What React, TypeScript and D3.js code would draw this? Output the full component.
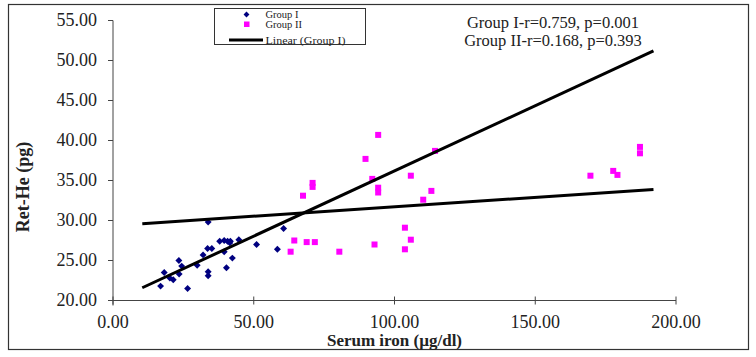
import React from "react";
import * as d3 from "d3";

// Group I: serum iron (µg/dl), Ret-He (pg)
const groupIX = [33.8, 60.6, 37.9, 39.5, 40.7, 41.7, 41.5, 44.7, 33.6, 35.1, 39.5, 51.0, 58.4, 32.0, 42.4, 23.4, 24.4, 29.9, 40.3, 18.2, 33.8, 33.8, 23.5, 20.2, 21.4, 16.9, 26.5];
const groupIY = [29.8, 29.0, 27.4, 27.5, 27.4, 27.4, 27.2, 27.6, 26.5, 26.5, 26.1, 27.0, 26.4, 25.7, 25.3, 25.0, 24.3, 24.4, 24.1, 23.5, 23.6, 23.1, 23.3, 22.8, 22.6, 21.8, 21.5];

const groupIIX = [63.1, 64.4, 68.8, 71.7, 67.5, 70.9, 70.9, 80.4, 89.7, 92.1, 94.2, 94.2, 92.9, 94.2, 103.7, 103.7, 105.8, 105.8, 110.2, 113.1, 114.4, 169.6, 177.7, 179.2, 187.2, 187.2];
const groupIIY = [26.1, 27.5, 27.3, 27.3, 33.1, 34.7, 34.2, 26.1, 37.7, 35.2, 34.1, 33.5, 27.0, 40.7, 29.1, 26.4, 35.6, 27.6, 32.6, 33.7, 38.7, 35.6, 36.2, 35.7, 39.2, 38.4];

// Trend lines: [intercept, slope], drawn over trendRange
const trendRange = [10.4, 192];
const trendI = [19.9, 0.163];
const trendII = [29.36, 0.0235];

const xTicks = [0, 50, 100, 150, 200];
const yTicks = [20, 25, 30, 35, 40, 45, 50, 55];

const legendLabels = ["Group I", "Group II", "Linear (Group I)"];
const annotations = ["Group I-r=0.759, p=0.001", "Group II-r=0.168, p=0.393"];
const xTitle = "Serum iron (µg/dl)";
const yTitle = "Ret-He (pg)";

const W = 756;
const H = 357;
const FONT = "'Liberation Serif', 'Times New Roman', serif";

export default function App() {
  const x = d3.scaleLinear().domain([0, 200]).range([113, 676]);
  const y = d3.scaleLinear().domain([20, 55]).range([300.5, 20.5]);

  const trendPath = (fit: number[]) =>
    d3.line<number>().x((d) => x(d)).y((d) => y(fit[0] + fit[1] * d))(trendRange) || "";

  const diamond = d3.symbol().type(d3.symbolSquare).size(24)() || "";
  const legendLine = d3.line()([[229, 40], [263, 40]]) || "";

  return (
    <svg
      width={W}
      height={H}
      style={{ position: "absolute", left: 0, top: 0, background: "#fff" }}
      fontFamily={FONT}
    >
      <rect x={0} y={0} width={W} height={H} fill="#fff" />
      <rect x={8.5} y={4.5} width={740} height={345} fill="none" stroke="#333" strokeWidth={1.2} />

      {/* Axes */}
      <line x1={x(0)} x2={x(0)} y1={y(55)} y2={y(20) + 5} stroke="#444" strokeWidth={1} />
      <line x1={x(0)} x2={x(200)} y1={y(20)} y2={y(20)} stroke="#444" strokeWidth={1} />
      {yTicks.map((t) => (
        <g key={"y" + t}>
          <line x1={x(0) - 5} x2={x(0)} y1={y(t)} y2={y(t)} stroke="#444" />
          <text x={x(0) - 16} y={y(t)} dy="0.33em" textAnchor="end" fontSize={18} fill="#222">
            {t.toFixed(2)}
          </text>
        </g>
      ))}
      {xTicks.map((t) => (
        <g key={"x" + t}>
          <line x1={x(t)} x2={x(t)} y1={y(20) - 4} y2={y(20) + 4} stroke="#444" />
          <text x={x(t)} y={y(20) + 27} textAnchor="middle" fontSize={18} fill="#222">
            {t.toFixed(2)}
          </text>
        </g>
      ))}
      <text x={x(100)} y={346} textAnchor="middle" fontSize={17} fontWeight="bold" fill="#222">
        {xTitle}
      </text>
      <text
        transform={`translate(29,${y(34.2)}) rotate(-90)`}
        textAnchor="middle"
        fontSize={18}
        fontWeight="bold"
        fill="#222"
      >
        {yTitle}
      </text>

      {/* Points */}
      {groupIIX.map((v, i) => (
        <rect key={"b" + i} x={x(v) - 3} y={y(groupIIY[i]) - 3} width={6} height={6} fill="#ff00ff" />
      ))}
      {groupIX.map((v, i) => (
        <path key={"a" + i} d={diamond} transform={`translate(${x(v)},${y(groupIY[i])}) rotate(45)`} fill="#000080" />
      ))}

      {/* Trend lines */}
      <path d={trendPath(trendI)} stroke="#000" strokeWidth={3} fill="none" />
      <path d={trendPath(trendII)} stroke="#000" strokeWidth={3} fill="none" />

      {/* Legend */}
      <rect x={214.5} y={8.5} width={151} height={36} fill="#fff" stroke="#333" strokeWidth={1} />
      <path d={diamond} transform="translate(246.5,14.5) rotate(45) scale(0.85)" fill="#000080" />
      <rect x={244} y={21.5} width={5.5} height={5.5} fill="#ff00ff" />
      <path d={legendLine} stroke="#000" strokeWidth={3} />
      <text x={265.5} y={18} fontSize={10.5} fill="#222">{legendLabels[0]}</text>
      <text x={265.5} y={28} fontSize={10.5} fill="#222">{legendLabels[1]}</text>
      <text x={265.5} y={43.5} fontSize={10.5} fill="#222" textLength={80} lengthAdjust="spacingAndGlyphs">
        {legendLabels[2]}
      </text>

      {/* Annotation */}
      <text x={553} y={27.5} textAnchor="middle" fontSize={16.5} fill="#222">{annotations[0]}</text>
      <text x={553} y={46} textAnchor="middle" fontSize={16.5} fill="#222">{annotations[1]}</text>
    </svg>
  );
}
